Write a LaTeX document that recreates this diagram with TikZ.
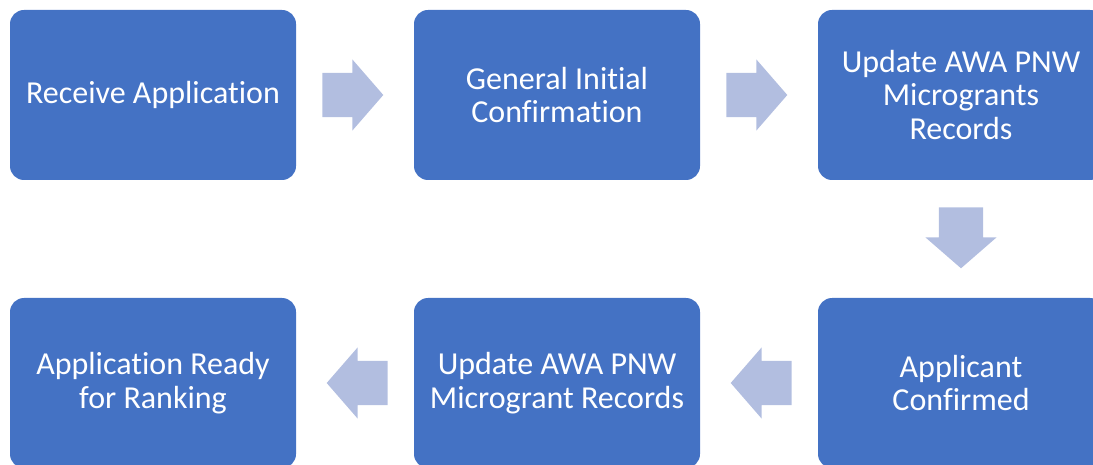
\documentclass[tikz,border=0pt]{standalone}
\usepackage{fontspec}
\setmainfont{Carlito}[Ligatures=NoCommon]
\usepackage{tikz}
\usepgflibrary{shapes}
\usetikzlibrary{shapes.arrows}
\usepackage{xcolor}

\definecolor{stepblue}{RGB}{68,114,196}
\definecolor{arrowblue}{RGB}{178,190,224}

\tikzset{
  stepbox/.style={rectangle, rounded corners=14pt, fill=stepblue, text=white,
    minimum width=286pt, minimum height=170pt, align=center,
    font=\fontsize{32}{33.5}\selectfont},
  flowarrow/.style={single arrow, fill=arrowblue, inner sep=0pt,
    minimum height=61pt, single arrow head extend=13.5pt,
    single arrow tip angle=98, pos=0.48},
  arrowright/.style={flowarrow, inner ysep=22pt, xshift=-9.5pt},
  arrowleft/.style={flowarrow, inner ysep=22pt, shape border rotate=180, xshift=9.5pt},
  arrowdown/.style={flowarrow, inner xsep=22pt, shape border rotate=270, yshift=8.5pt}
}

\begin{document}
\begin{tikzpicture}[node distance=404pt]
  \useasboundingbox (0,0) rectangle (1093pt,464pt);
  \node[stepbox] (recv) at (153pt,369pt) {Receive Application};
  \node[stepbox] (conf) [right of=recv] {General Initial\\Confirmation};
  \node[stepbox] (upd1) [right of=conf] {Update AWA PNW\\Microgrants\\Records};
  \node[stepbox] (appl) [node distance=288pt, below of=upd1] {Applicant\\Confirmed};
  \node[stepbox] (upd2) [left of=appl] {Update AWA PNW\\Microgrant Records};
  \node[stepbox] (ready) [left of=upd2] {Application Ready\\for Ranking};

  \path (recv) -- node[arrowright] (ar1) {} (conf)
        (conf) -- node[arrowright] (ar2) {} (upd1)
        (upd1) -- node[arrowdown] (ar3) {} (appl)
        (appl) -- node[arrowleft] (ar4) {} (upd2)
        (upd2) -- node[arrowleft] (ar5) {} (ready);
\end{tikzpicture}
\end{document}
